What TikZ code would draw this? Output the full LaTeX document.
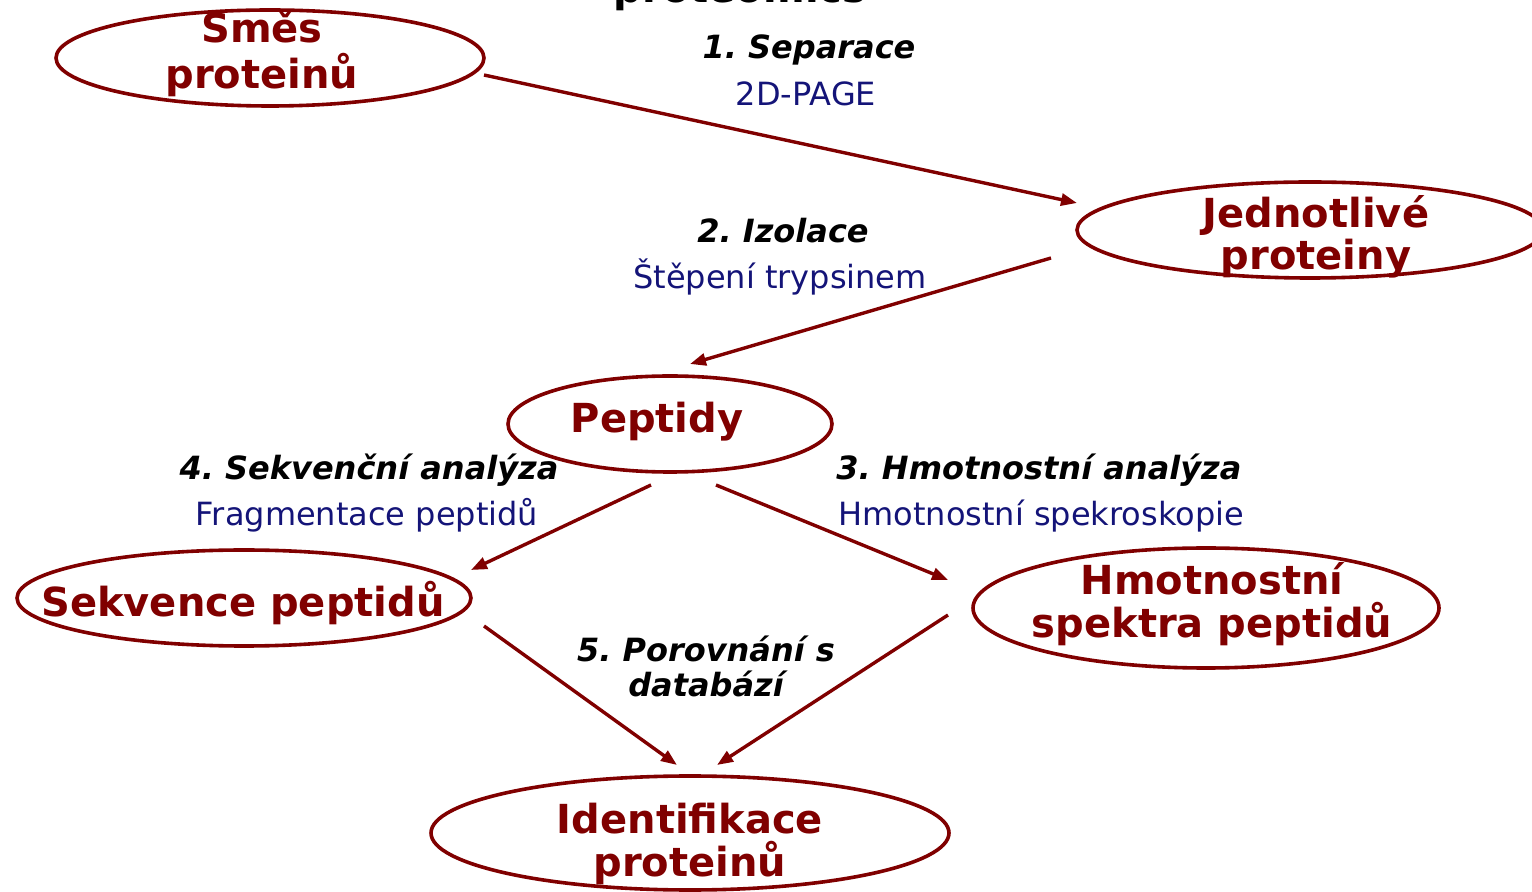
\documentclass[tikz,border=0pt]{standalone}
\usepackage{fontspec}
\setmainfont{DejaVu Sans}
\usetikzlibrary{shapes.geometric,arrows.meta}
\definecolor{maroonc}{RGB}{128,0,0}
\definecolor{navyc}{RGB}{20,20,120}
\frenchspacing
\begin{document}
\begin{tikzpicture}[x=0.5pt,y=-0.5pt,
  ell/.style={draw=maroonc, line width=1.8pt, ellipse, inner sep=0pt},
  etxt/.style={text=maroonc, font=\bfseries\fontsize{20}{22}\selectfont, anchor=base, inner sep=0pt},
  steplab/.style={text=black, font=\bfseries\itshape\fontsize{16}{18}\selectfont, anchor=base, inner sep=0pt},
  sublab/.style={text=navyc, font=\fontsize{16}{18}\selectfont, anchor=base, inner sep=0pt},
  arr/.style={draw=maroonc, line width=1.7pt, -{Triangle[length=8pt,width=6pt]}}]
\useasboundingbox (0,0) rectangle (1532,892);
\clip (0,0) rectangle (1532,892);
% title (cut off at the top edge, as in the reference)
\node[text=black, font=\bfseries\fontsize{20}{22}\selectfont, anchor=base, inner sep=0pt] (title) at (740,3) {proteomics};
% ellipses
\node[ell, minimum width=214pt, minimum height=48pt] (smes) at (270,58) {};
\node[ell, minimum width=233pt, minimum height=48pt] (jedn) at (1310,230) {};
\node[ell, minimum width=162pt, minimum height=48pt] (pept) at (670,424) {};
\node[ell, minimum width=227pt, minimum height=48pt] (sekv) at (244,598) {};
\node[ell, minimum width=233pt, minimum height=60pt] (hmot) at (1206,608) {};
\node[ell, minimum width=259pt, minimum height=57pt] (iden) at (690,833) {};
% ellipse texts
\node[etxt] (smesA) at (262,43) {Směs};
\node[etxt] (smesB) at (262,89) {proteinů};
\node[etxt] (jednA) at (1316,228) {Jednotlivé};
\node[etxt] (jednB) at (1316,270) {proteiny};
\node[etxt] (peptA) at (657,433) {Peptidy};
\node[etxt] (sekvA) at (243,617) {Sekvence peptidů};
\node[etxt] (hmotA) at (1212,595) {Hmotnostní};
\node[etxt] (hmotB) at (1212,638) {spektra peptidů};
\node[etxt] (idenA) at (690,833) {Identifikace};
\node[etxt] (idenB) at (690,876) {proteinů};
% step labels
\node[steplab] (l1) at (809,59) {1. Separace};
\node[sublab] (s1) at (806,106) {2D-PAGE};
\node[steplab] (l2) at (783,243) {2. Izolace};
\node[sublab] (s2) at (780,289) {Štěpení trypsinem};
\node[steplab] (l4) at (369,480) {4. Sekvenční analýza};
\node[sublab] (s4) at (367,526) {Fragmentace peptidů};
\node[steplab, anchor=base west] (l3) at (836,480) {3. Hmotnostní analýza};
\node[sublab, anchor=base west] (s3) at (838,526) {Hmotnostní spekroskopie};
\node[steplab] (l5a) at (706,662) {5. Porovnání s};
\node[steplab] (l5b) at (706,697) {databází};
% connector endpoints (the arrows stop short of the ellipses)
\coordinate (a1s) at (484,75);  \coordinate (a1e) at (1077,203);
\coordinate (a2s) at (1051,258); \coordinate (a2e) at (690,364);
\coordinate (a3s) at (651,485); \coordinate (a3e) at (471,570);
\coordinate (a4s) at (716,485); \coordinate (a4e) at (948,580);
\coordinate (a5s) at (484,626); \coordinate (a5e) at (677,765);
\coordinate (a6s) at (948,615); \coordinate (a6e) at (717,765);
\draw[arr] (a1s) -- (a1e);
\draw[arr] (a2s) -- (a2e);
\draw[arr] (a3s) -- (a3e);
\draw[arr] (a4s) -- (a4e);
\draw[arr] (a5s) -- (a5e);
\draw[arr] (a6s) -- (a6e);
\end{tikzpicture}
\end{document}
